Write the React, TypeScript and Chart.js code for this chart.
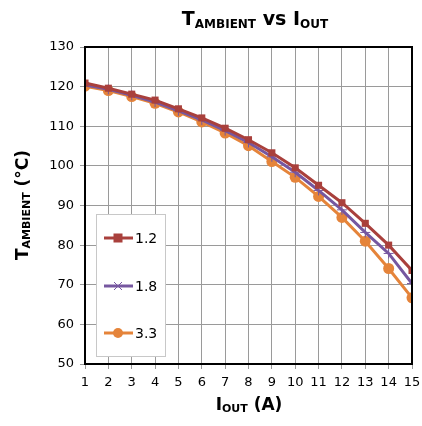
import React, { useEffect, useRef } from "react";
import { Chart, registerables } from "chart.js";

Chart.register(...registerables);

const currents = [1, 2, 3, 4, 5, 6, 7, 8, 9, 10, 11, 12, 13, 14, 15];
const series12 = [120.9, 119.6, 118.1, 116.6, 114.4, 112.1, 109.5, 106.6, 103.3, 99.5, 95.1, 90.7, 85.5, 80.0, 73.6];
const series18 = [120.4, 119.3, 117.8, 116.1, 113.9, 111.6, 108.9, 105.9, 102.3, 98.4, 93.8, 88.9, 83.2, 77.9, 70.3];
const series33 = [120.1, 119.0, 117.5, 115.8, 113.6, 111.1, 108.3, 105.1, 101.1, 97.1, 92.3, 87.0, 81.0, 74.1, 66.7];
const seriesNames = ["1.2", "1.8", "3.3"];
const seriesColors = ["#A9403C", "#7657A0", "#E5843A"];
const markerStyles = ["rect", "cross", "circle"];
const markerRadii = [5, 5, 5.5];
const yTicks = { min: 50, max: 130, step: 10 };
const xTicks = { min: 1, max: 15, step: 1 };

const FONT = "'DejaVu Sans', Verdana, sans-serif";

type Part = { t: string; s: number; dy: number };

function partsWidth(ctx: CanvasRenderingContext2D, parts: Part[]) {
  let w = 0;
  for (const p of parts) {
    ctx.font = `bold ${p.s}px ${FONT}`;
    w += ctx.measureText(p.t).width;
  }
  return w;
}

function drawParts(ctx: CanvasRenderingContext2D, parts: Part[], cx: number, y: number) {
  const w = partsWidth(ctx, parts);
  let x = cx - w / 2;
  ctx.textAlign = "left";
  ctx.textBaseline = "alphabetic";
  ctx.fillStyle = "#000";
  for (const p of parts) {
    ctx.font = `bold ${p.s}px ${FONT}`;
    ctx.fillText(p.t, x, y + p.dy);
    x += ctx.measureText(p.t).width;
  }
}

const decorPlugin = {
  id: "decor",
  afterDraw(chart: any) {
    const ctx: CanvasRenderingContext2D = chart.ctx;
    const a = chart.chartArea;
    ctx.save();
    // frame
    ctx.strokeStyle = "#000";
    ctx.lineWidth = 2;
    ctx.strokeRect(a.left, a.top, a.right - a.left, a.bottom - a.top);

    // title
    drawParts(
      ctx,
      [
        { t: "T", s: 19, dy: 0 },
        { t: "AMBIENT", s: 12, dy: 3 },
        { t: " vs ", s: 19, dy: 0 },
        { t: "I", s: 19, dy: 0 },
        { t: "OUT", s: 12, dy: 3 },
      ],
      255,
      25
    );
    // x title
    drawParts(
      ctx,
      [
        { t: "I", s: 17, dy: 0 },
        { t: "OUT", s: 11, dy: 2 },
        { t: " (A)", s: 17, dy: 0 },
      ],
      249,
      410
    );
    // y title
    ctx.save();
    ctx.translate(28, 205);
    ctx.rotate(-Math.PI / 2);
    drawParts(
      ctx,
      [
        { t: "T", s: 17, dy: 0 },
        { t: "AMBIENT", s: 11, dy: 2 },
        { t: " (°C)", s: 17, dy: 0 },
      ],
      0,
      0
    );
    ctx.restore();

    // legend
    const bx = 96, by = 214, bw = 69, bh = 142;
    ctx.fillStyle = "#fff";
    ctx.fillRect(bx, by, bw, bh);
    ctx.strokeStyle = "#C8C8C8";
    ctx.lineWidth = 1;
    ctx.strokeRect(bx + 0.5, by + 0.5, bw, bh);
    const rows = [238, 286, 333];
    chart.data.datasets.forEach((ds: any, i: number) => {
      const y = rows[i];
      ctx.strokeStyle = ds.borderColor;
      ctx.lineWidth = 3;
      ctx.beginPath();
      ctx.moveTo(104, y);
      ctx.lineTo(133, y);
      ctx.stroke();
      const mx = 118;
      ctx.fillStyle = ds.pointBackgroundColor;
      ctx.strokeStyle = ds.pointBorderColor;
      if (ds.pointStyle === "rect") {
        ctx.fillRect(mx - 4.5, y - 4.5, 9, 9);
      } else if (ds.pointStyle === "circle") {
        ctx.beginPath();
        ctx.arc(mx, y, 5, 0, Math.PI * 2);
        ctx.fill();
      } else {
        ctx.lineWidth = 1;
        ctx.beginPath();
        ctx.moveTo(mx - 4, y - 4);
        ctx.lineTo(mx + 4, y + 4);
        ctx.moveTo(mx + 4, y - 4);
        ctx.lineTo(mx - 4, y + 4);
        ctx.stroke();
      }
      ctx.fillStyle = "#000";
      ctx.font = `14px ${FONT}`;
      ctx.textAlign = "left";
      ctx.textBaseline = "middle";
      ctx.fillText(ds.label, 135, y + 1);
    });
    ctx.restore();
  },
};

export default function App() {
  const ref = useRef<HTMLCanvasElement | null>(null);
  useEffect(() => {
    document.body.style.margin = "0";
    const all = [series12, series18, series33];
    const chart = new Chart(ref.current as HTMLCanvasElement, {
      type: "line",
      data: {
        datasets: all.map((vals, i) => ({
          label: seriesNames[i],
          data: vals.map((v, j) => ({ x: currents[j], y: v })),
          borderColor: seriesColors[i],
          backgroundColor: seriesColors[i],
          pointBackgroundColor: seriesColors[i],
          pointBorderColor: seriesColors[i],
          pointStyle: markerStyles[i] as any,
          pointRadius: markerRadii[i],
          pointBorderWidth: i === 1 ? 1 : 0,
          borderWidth: 3,
          tension: 0,
          fill: false,
        })),
      },
      plugins: [decorPlugin],
      options: {
        animation: false,
        responsive: false,
        devicePixelRatio: 1,
        layout: { padding: { left: 0, right: 10, top: 47, bottom: 0 } },
        plugins: { legend: { display: false }, title: { display: false }, tooltip: { enabled: false } },
        scales: {
          x: {
            type: "linear",
            min: xTicks.min,
            max: xTicks.max,
            ticks: { stepSize: xTicks.step, color: "#000", font: { family: FONT, size: 13 }, padding: 6, maxRotation: 0 },
            grid: { color: "#9A9A9A", lineWidth: 1, tickLength: 5, tickColor: "#9A9A9A" },
            border: { display: true, color: "#000", width: 2 },
            afterFit: (s: any) => { s.height = 62; s.paddingLeft = 0; s.paddingRight = 0; },
          },
          y: {
            min: yTicks.min,
            max: yTicks.max,
            ticks: { stepSize: yTicks.step, color: "#000", font: { family: FONT, size: 13 }, padding: 6 },
            grid: { color: "#9A9A9A", lineWidth: 1, tickLength: 5, tickColor: "#9A9A9A" },
            border: { display: true, color: "#000", width: 2 },
            afterFit: (s: any) => { s.width = 85; s.paddingTop = 0; s.paddingBottom = 0; },
          },
        },
      },
    });
    return () => chart.destroy();
  }, []);
  return (
    <div style={{ position: "absolute", left: 0, top: 0, width: 422, height: 426, background: "#fff" }}>
      <canvas ref={ref} width={422} height={426} style={{ width: 422, height: 426 }} />
    </div>
  );
}
